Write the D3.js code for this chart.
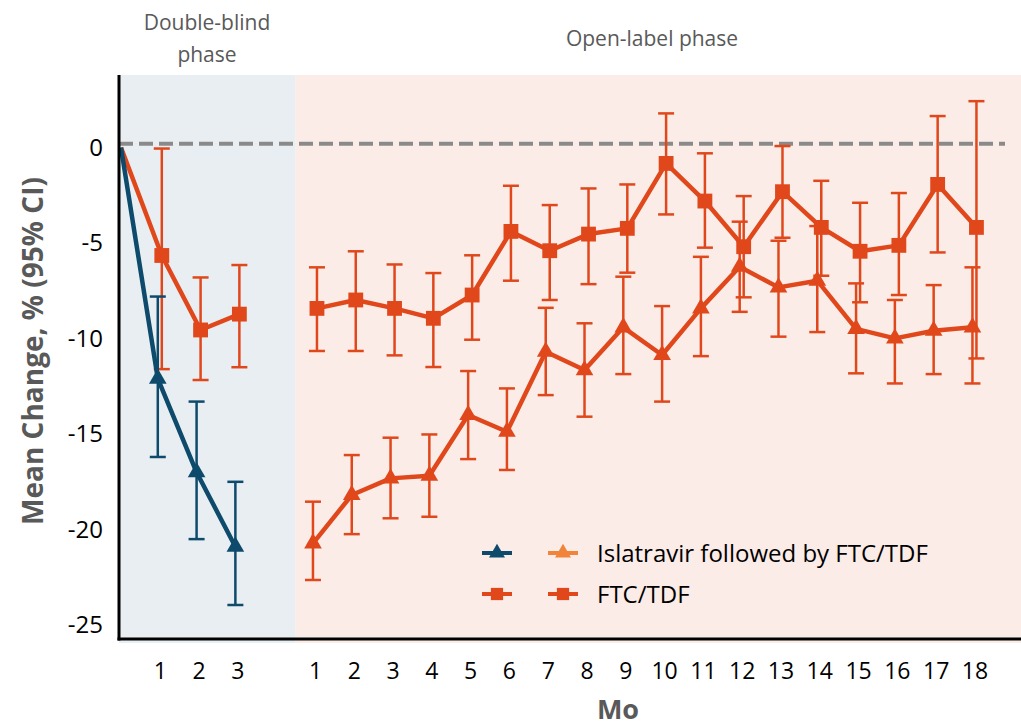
<!DOCTYPE html>
<html>
<head>
<meta charset="utf-8">
<script src="https://cdn.jsdelivr.net/npm/d3@7"></script>
<style>
  body { margin: 0; background: #fff; }
  svg text { font-family: "Open Sans", "Noto Sans", sans-serif; }
</style>
</head>
<body>
<svg id="chart" width="1021" height="727"></svg>
<script>
"use strict";

var width  = 1021,
    height = 727;

// month labels; double-blind sits at positions 1-3, open-label at 5-22
var dbMonths = ["1", "2", "3"],
    olMonths = ["1","2","3","4","5","6","7","8","9","10","11","12","13","14","15","16","17","18"];

var yTicks = [0, -5, -10, -15, -20, -25];
var refValue = 0.2;

// double-blind phase (month 0 = baseline)
var islaDB   = [0, -12.1, -17.0, -20.9],
    islaDBHi = [null, -7.8, -13.3, -17.5],
    islaDBLo = [null, -16.2, -20.5, -23.95];

var ftcDB   = [0, -5.65, -9.55, -8.72],
    ftcDBHi = [null, -0.05, -6.8, -6.15],
    ftcDBLo = [null, -11.6, -12.17, -11.5];

// open-label phase
var islaOL   = [-20.72, -18.19, -17.32, -17.18, -14.0, -14.88, -10.69, -11.65, -9.41,
                -10.86, -8.42, -6.24, -7.32, -6.97, -9.49, -9.99, -9.59, -9.41],
    islaOLHi = [-18.54, -16.1, -15.19, -15.02, -11.7, -12.61, -8.39, -9.2, -6.76,
                -8.3, -5.72, -3.88, -4.88, -4.11, -7.11, -7.98, -7.2, -6.27],
    islaOLLo = [-22.64, -20.24, -19.41, -19.33, -16.31, -16.88, -12.96, -14.09, -11.86,
                -13.3, -10.92, -8.6, -9.9, -9.66, -11.82, -12.35, -11.86, -12.35];

var ftcOL   = [-8.42, -7.98, -8.42, -8.94, -7.72, -4.39, -5.4, -4.53, -4.23,
               -0.83, -2.8, -5.19, -2.31, -4.18, -5.43, -5.12, -1.93, -4.18],
    ftcOLHi = [-6.27, -5.43, -6.12, -6.57, -5.64, -2.0, -3.01, -2.14, -1.93,
               1.79, -0.3, -2.54, 0.08, -1.74, -2.89, -2.38, 1.65, 2.43],
    ftcOLLo = [-10.65, -10.65, -10.88, -11.49, -10.06, -6.97, -7.98, -7.15, -6.55,
               -3.5, -5.24, -7.84, -4.72, -6.71, -8.1, -7.72, -5.49, -11.04];

var navy = "#0e4a6b",
    red  = "#e0481c",
    lightOrange = "#f0843a";

var plotLeft = 119, plotTop = 75, plotBottom = 639;

var x = d3.scaleLinear().domain([0, 23.2]).range([121, width]);
var y = d3.scaleLinear().domain([-25.73, 3.8]).range([plotBottom, plotTop]);

var chart = d3.select("#chart");

// phase backgrounds
chart.append("rect")
    .attr("x", plotLeft).attr("y", plotTop)
    .attr("width", x(4.5) - plotLeft).attr("height", plotBottom - plotTop + 4)
    .attr("fill", "#e8eef2");
chart.append("rect")
    .attr("x", x(4.5)).attr("y", plotTop)
    .attr("width", width - x(4.5)).attr("height", plotBottom - plotTop + 4)
    .attr("fill", "#fbece7");

// phase labels
chart.append("text").attr("x", 207).attr("y", 30)
    .attr("text-anchor", "middle").attr("font-size", 21).attr("fill", "#595959")
    .text("Double-blind");
chart.append("text").attr("x", 207).attr("y", 62)
    .attr("text-anchor", "middle").attr("font-size", 21).attr("fill", "#595959")
    .text("phase");
chart.append("text").attr("x", 652).attr("y", 46)
    .attr("text-anchor", "middle").attr("font-size", 21).attr("fill", "#595959")
    .text("Open-label phase");

// reference line
chart.append("line")
    .attr("x1", plotLeft).attr("x2", 1005)
    .attr("y1", y(refValue)).attr("y2", y(refValue))
    .attr("stroke", "#8a8a8a").attr("stroke-width", 4)
    .attr("stroke-dasharray", "14,6");

function makeSeries(means, his, los, offset, dodge) {
    return means.map(function(m, i) {
        return {idx: i + offset, v: m, hi: his[i], lo: los[i], dodge: dodge};
    });
}

var seriesList = [
    {pts: makeSeries(ftcDB, ftcDBHi, ftcDBLo, 0, 2),   color: red,  shape: d3.symbolSquare},
    {pts: makeSeries(islaDB, islaDBHi, islaDBLo, 0, -2), color: navy, shape: d3.symbolTriangle},
    {pts: makeSeries(ftcOL, ftcOLHi, ftcOLLo, 5, 2),   color: red,  shape: d3.symbolSquare},
    {pts: makeSeries(islaOL, islaOLHi, islaOLLo, 5, -2), color: red,  shape: d3.symbolTriangle}
];

var line = d3.line()
    .x(function(d) { return x(d.idx) + (d.idx === 0 ? 0 : d.dodge); })
    .y(function(d) { return y(d.v); });

var capW = 8;

seriesList.forEach(function(s) {
    var g = chart.append("g");
    var withCI = s.pts.filter(function(d) { return d.hi !== null; });
    var eb = g.selectAll(".eb").data(withCI).enter().append("g")
        .attr("stroke", s.color).attr("stroke-width", 2.5);
    eb.append("line")
        .attr("x1", function(d) { return x(d.idx) + d.dodge; })
        .attr("x2", function(d) { return x(d.idx) + d.dodge; })
        .attr("y1", function(d) { return y(d.hi); })
        .attr("y2", function(d) { return y(d.lo); });
    eb.append("line")
        .attr("x1", function(d) { return x(d.idx) + d.dodge - capW; })
        .attr("x2", function(d) { return x(d.idx) + d.dodge + capW; })
        .attr("y1", function(d) { return y(d.hi); })
        .attr("y2", function(d) { return y(d.hi); });
    eb.append("line")
        .attr("x1", function(d) { return x(d.idx) + d.dodge - capW; })
        .attr("x2", function(d) { return x(d.idx) + d.dodge + capW; })
        .attr("y1", function(d) { return y(d.lo); })
        .attr("y2", function(d) { return y(d.lo); });
});

seriesList.forEach(function(s) {
    chart.append("path")
        .datum(s.pts)
        .attr("d", line)
        .attr("fill", "none")
        .attr("stroke", s.color)
        .attr("stroke-width", 4.5)
        .attr("stroke-linejoin", "round");
});

seriesList.forEach(function(s) {
    var size = s.shape === d3.symbolSquare ? 220 : 135;
    chart.selectAll(null)
        .data(s.pts.filter(function(d) { return d.idx !== 0; }))
        .enter().append("path")
        .attr("d", d3.symbol().type(s.shape).size(size))
        .attr("transform", function(d) {
            return "translate(" + (x(d.idx) + d.dodge) + "," + y(d.v) + ")";
        })
        .attr("fill", s.color);
});

// axes
var yAxis = chart.append("g")
    .attr("transform", "translate(" + plotLeft + ",0)")
    .call(d3.axisLeft(y).tickValues(yTicks).tickSize(0).tickPadding(16)
        .tickFormat(function(d) { return d; }));
yAxis.select(".domain").remove();
yAxis.selectAll("text").attr("font-size", 24).attr("fill", "#000")
    .style("font-family", "'Open Sans', sans-serif");

var xIdx = [1, 2, 3].concat(olMonths.map(function(m, i) { return i + 5; }));
var xLabels = dbMonths.concat(olMonths);
var xAxis = chart.append("g")
    .attr("transform", "translate(0," + plotBottom + ")")
    .call(d3.axisBottom(x).tickValues(xIdx).tickSize(0).tickPadding(24)
        .tickFormat(function(d, i) { return xLabels[i]; }));
xAxis.select(".domain").remove();
xAxis.selectAll("text").attr("font-size", 23).attr("fill", "#000")
    .style("font-family", "'Open Sans', sans-serif");

chart.append("line")
    .attr("x1", plotLeft).attr("x2", plotLeft).attr("y1", plotTop).attr("y2", plotBottom + 1.5)
    .attr("stroke", "#000").attr("stroke-width", 3);
chart.append("line")
    .attr("x1", plotLeft - 1.5).attr("x2", width).attr("y1", plotBottom).attr("y2", plotBottom)
    .attr("stroke", "#000").attr("stroke-width", 3);

// axis titles
chart.append("text")
    .attr("transform", "translate(43,351) rotate(-90)")
    .attr("text-anchor", "middle").attr("font-size", 28).attr("font-weight", "bold")
    .attr("fill", "#595959")
    .text("Mean Change, % (95% CI)");
chart.append("text")
    .attr("x", 618).attr("y", 719)
    .attr("text-anchor", "middle").attr("font-size", 27).attr("font-weight", "bold")
    .attr("fill", "#595959")
    .text("Mo");

// legend
var legendRows = [
    {y: 553, label: "Islatravir followed by FTC/TDF", shape: d3.symbolTriangle, colors: [navy, lightOrange]},
    {y: 594, label: "FTC/TDF", shape: d3.symbolSquare, colors: [red, red]}
];
var legendCols = [482, 548];

legendRows.forEach(function(r) {
    legendCols.forEach(function(cx, j) {
        chart.append("line")
            .attr("x1", cx).attr("x2", cx + 30)
            .attr("y1", r.y).attr("y2", r.y)
            .attr("stroke", r.colors[j]).attr("stroke-width", 4);
        chart.append("path")
            .attr("d", d3.symbol().type(r.shape).size(r.shape === d3.symbolSquare ? 150 : 110))
            .attr("transform", "translate(" + (cx + 15) + "," + r.y + ")")
            .attr("fill", r.colors[j]);
    });
    chart.append("text")
        .attr("x", 597).attr("y", r.y + 9)
        .attr("font-size", 24).attr("fill", "#000")
        .text(r.label);
});
</script>
</body>
</html>
